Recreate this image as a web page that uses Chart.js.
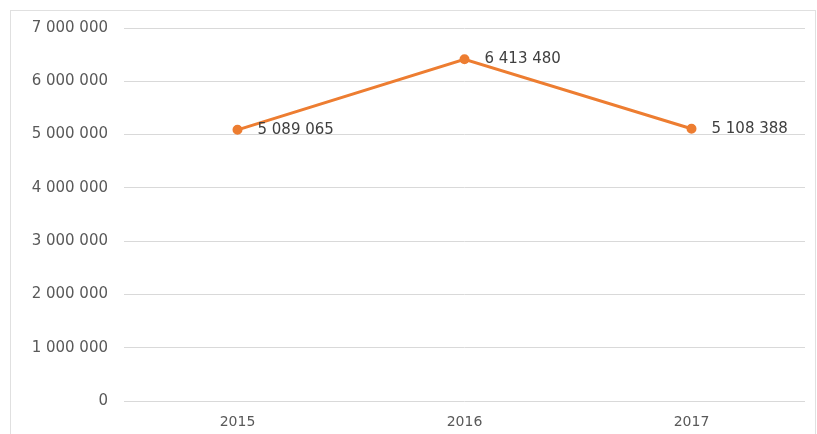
<!DOCTYPE html>
<html>
<head>
<meta charset="utf-8">
<script src="https://cdn.jsdelivr.net/npm/chart.js@4"></script>
<style>
  html, body { margin: 0; padding: 0; background: #fff; }
  #wrap { position: relative; width: 817px; height: 434px; }
  #frame { position: absolute; left: 10px; top: 10px; width: 806px; height: 430px;
           border: 1px solid #e0e0e0; box-sizing: border-box; }
  #cnv { position: absolute; left: 0; top: 0; }
</style>
</head>
<body>
<div id="wrap">
  <div id="frame"></div>
  <canvas id="cnv" width="817" height="434"></canvas>
</div>
<script>
const years = ['2015', '2016', '2017'];
const values = [5089065, 6413480, 5108388];
const yMax = 7000000;
const yStep = 1000000;

const FONT = '"DejaVu Sans", sans-serif';

// thousands separated by spaces
function fmt(n) {
  return String(Math.round(n)).replace(/\B(?=(\d{3})+(?!\d))/g, ' ');
}

// value labels drawn to the right of each point
const pointLabels = {
  id: 'pointLabels',
  afterDatasetsDraw(chart) {
    const c = chart.ctx;
    const meta = chart.getDatasetMeta(0);
    c.save();
    c.font = '15px ' + FONT;
    c.fillStyle = '#404040';
    c.textAlign = 'left';
    c.textBaseline = 'middle';
    meta.data.forEach((pt, i) => {
      c.fillText(fmt(values[i]), pt.x + 20, pt.y);
    });
    c.restore();
  }
};

const ctx = document.getElementById('cnv');
new Chart(ctx, {
  type: 'line',
  data: {
    labels: years,
    datasets: [{
      data: values,
      borderColor: '#ED7D31',
      backgroundColor: '#ED7D31',
      borderWidth: 3,
      pointRadius: 3.5,
      pointHoverRadius: 3.5,
      tension: 0
    }]
  },
  options: {
    responsive: false,
    animation: false,
    layout: { padding: { top: 28, right: 12, left: 0, bottom: 0 } },
    plugins: {
      legend: { display: false },
      tooltip: { enabled: false }
    },
    scales: {
      x: {
        offset: true,
        grid: { display: false },
        border: { display: false },
        ticks: {
          color: '#595959',
          font: { family: FONT, size: 14 },
          padding: 5
        },
        afterFit(scale) { scale.height = 33; }
      },
      y: {
        min: 0,
        max: yMax,
        grid: { color: '#d9d9d9', drawTicks: false },
        border: { display: false },
        ticks: {
          stepSize: yStep,
          color: '#595959',
          font: { family: FONT, size: 15 },
          padding: 16,
          callback: v => fmt(v)
        },
        afterFit(scale) { scale.width = 124; }
      }
    }
  },
  plugins: [pointLabels]
});
</script>
</body>
</html>
